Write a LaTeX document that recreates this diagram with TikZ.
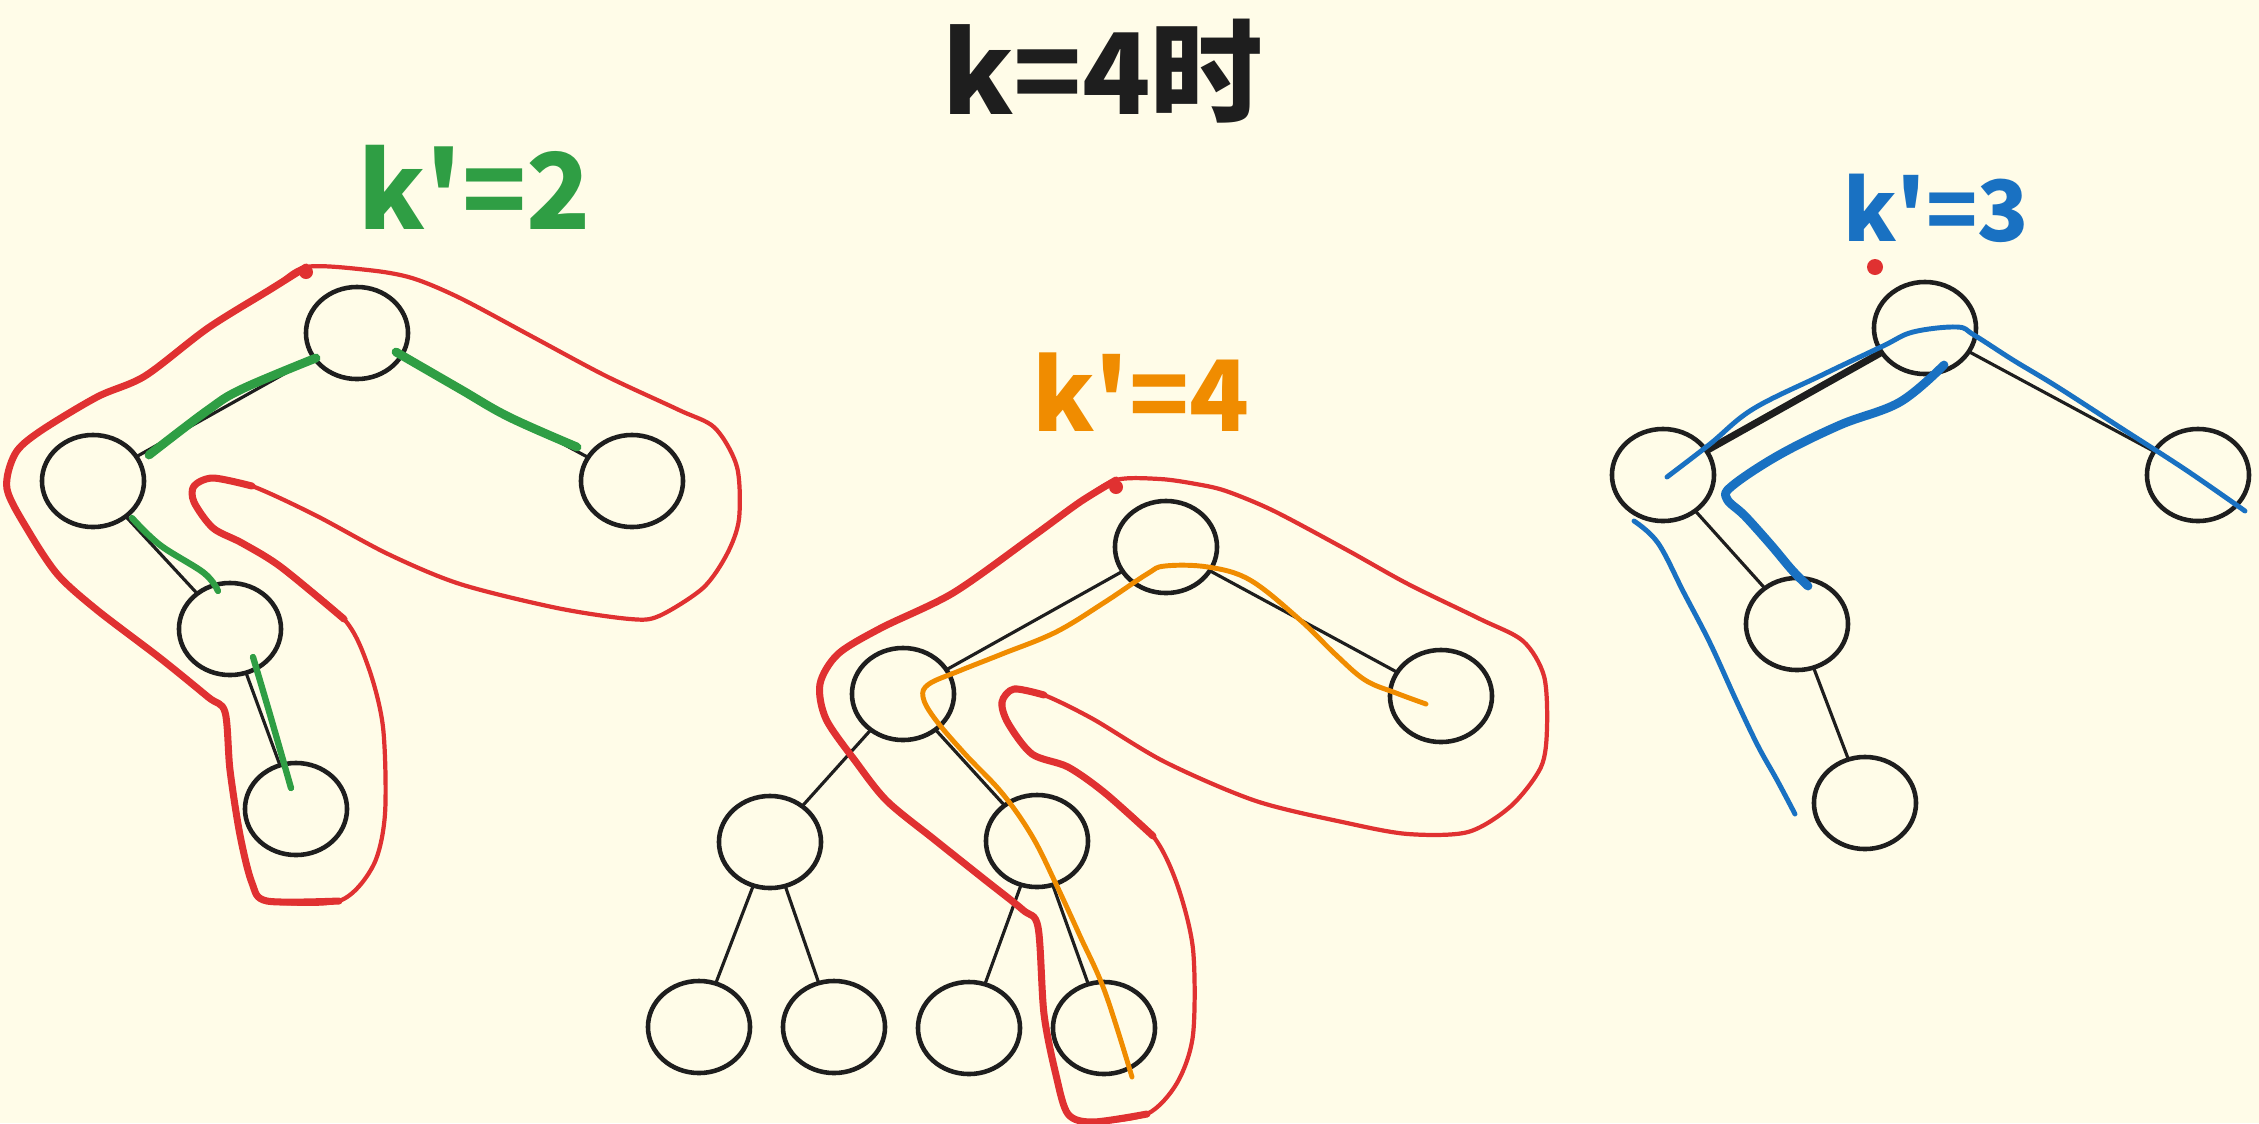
\documentclass[tikz,border=0pt]{standalone}
\usepackage{fontspec}
\usepackage{tkz-graph}
\usetikzlibrary{shapes.geometric}
\newfontfamily\hand{Noto Sans CJK SC}
\definecolor{paper}{HTML}{FFFCE8}
\definecolor{ink}{HTML}{1E1E1E}
\definecolor{redc}{HTML}{E03131}
\definecolor{greenc}{HTML}{2F9E44}
\definecolor{orangec}{HTML}{F08C00}
\definecolor{bluec}{HTML}{1971C2}

\begin{document}
\begin{tikzpicture}[x=0.01cm, y=-0.01cm,
    hull/.style={draw=redc, line width=1.2pt, line cap=round, line join=round},
    hullthick/.style={hull, line width=2pt},
    walk/.style={line width=1.4pt, line cap=round, line join=round},
    walkthick/.style={walk, line width=2.5pt},
    tag/.style={font=\hand\bfseries, inner sep=0pt}]
    \useasboundingbox[fill=paper] (0,0) rectangle (2259,1123);
    \GraphInit[vstyle=Normal]
    \tikzset{VertexStyle/.style={draw=ink, shape=ellipse, line width=1.3pt,
        minimum width=1.02cm, minimum height=0.92cm, inner sep=0pt}}
    \SetUpEdge[lw=0.9pt,color=ink]

    \node[tag, text=ink, font=\hand\bfseries\fontsize{32}{36}\selectfont] (title) at (1103,71) {k=4时};
    \node[tag, text=greenc, font=\hand\bfseries\fontsize{30}{34}\selectfont] (k2) at (475,187) {k'=2};
    \node[tag, text=orangec, font=\hand\bfseries\fontsize{28}{32}\selectfont] (k4) at (1141,392) {k'=4};
    \node[tag, text=bluec, font=\hand\bfseries\fontsize{24}{28}\selectfont] (k3) at (1936,208) {k'=3};

    \Vertex[x=357,y=333,NoLabel]{a}
    \Vertex[x=93,y=481,NoLabel]{b}
    \Vertex[x=632,y=481,NoLabel]{c}
    \Vertex[x=230,y=629,NoLabel]{d}
    \Vertex[x=296,y=809,NoLabel]{e}
    \Edge(a)(b)
    \Edge(a)(c)
    \Edge(b)(d)
    \Edge(d)(e)

    \Vertex[x=1166,y=547,NoLabel]{m1}
    \Vertex[x=903,y=694,NoLabel]{m2}
    \Vertex[x=1441,y=696,NoLabel]{m3}
    \Vertex[x=770,y=842,NoLabel]{m4}
    \Vertex[x=1037,y=841,NoLabel]{m5}
    \Vertex[x=699,y=1027,NoLabel]{m6}
    \Vertex[x=834,y=1027,NoLabel]{m7}
    \Vertex[x=969,y=1028,NoLabel]{m8}
    \Vertex[x=1104,y=1028,NoLabel]{m9}
    \Edge(m1)(m2)
    \Edge(m1)(m3)
    \Edge(m2)(m4)
    \Edge(m2)(m5)
    \Edge(m4)(m6)
    \Edge(m4)(m7)
    \Edge(m5)(m8)
    \Edge(m5)(m9)

    \Vertex[x=1925,y=328,NoLabel]{r1}
    \Vertex[x=1663,y=475,NoLabel]{r2}
    \Vertex[x=2198,y=475,NoLabel]{r3}
    \Vertex[x=1797,y=624,NoLabel]{r4}
    \Vertex[x=1865,y=803,NoLabel]{r5}
    \Edge[lw=2pt](r1)(r2)
    \Edge(r1)(r3)
    \Edge(r2)(r4)
    \Edge(r4)(r5)

    % red hulls
    \draw[hull] plot[smooth cycle, tension=0.5] coordinates {(306,267) (368,270) (412,278) (460,298) (533,337) (606,376) (679,410) (715,428) (737,467) (739,519) (727,554) (703,588) (659,616) (630,619) (557,608) (460,584) (388,554) (315,515) (252,486) (213,478) (194,486) (194,502) (213,528) (242,543) (281,567) (344,619) (368,666) (383,727) (385,814) (373,866) (339,901) (267,901) (252,883) (240,835) (230,770) (225,712) (208,697) (160,658) (97,610) (58,575) (29,532) (7,489) (15,454) (39,432) (97,397) (145,376) (208,328) (271,289)};
    \draw[hullthick] plot[smooth, tension=0.5] coordinates {(306,267) (271,289) (208,328) (145,376) (97,397) (39,432) (15,454) (7,489) (29,532) (58,575) (97,610) (160,658) (208,697) (225,712) (230,770) (240,835) (252,883) (267,901) (339,901)};
    \draw[hullthick] plot[smooth, tension=0.5] coordinates {(252,486) (213,478) (194,486) (194,502) (213,528) (242,543) (281,567) (344,619)};
    \fill[redc] (306,272) circle (7);

    \draw[hull] plot[smooth cycle, tension=0.5] coordinates {(1116,480) (1160,479) (1196,484) (1226,491) (1274,511) (1347,550) (1408,584) (1480,619) (1523,641) (1544,676) (1547,728) (1541,767) (1511,806) (1468,832) (1408,834) (1347,823) (1256,801) (1165,762) (1093,719) (1044,695) (1014,689) (1002,702) (1008,723) (1032,754) (1068,767) (1105,793) (1153,836) (1177,884) (1193,949) (1193,1035) (1177,1083) (1147,1114) (1093,1122) (1068,1114) (1056,1075) (1044,1014) (1038,927) (1023,910) (984,879) (935,840) (887,801) (856,762) (826,719) (820,684) (838,654) (881,628) (953,593) (1032,537) (1080,502)};
    \draw[hullthick] plot[smooth, tension=0.5] coordinates {(1116,480) (1080,502) (1032,537) (953,593) (881,628) (838,654) (820,684) (826,719) (856,762) (887,801) (935,840) (984,879) (1023,910) (1038,927) (1044,1014) (1056,1075) (1068,1114) (1093,1122) (1147,1114)};
    \draw[hullthick] plot[smooth, tension=0.5] coordinates {(1044,695) (1014,689) (1002,702) (1008,723) (1032,754) (1068,767) (1105,793) (1153,836)};
    \fill[redc] (1116,487) circle (7);

    \fill[redc] (1875,267) circle (8);

    % green walk
    \draw[walkthick, draw=greenc] plot[smooth, tension=0.6] coordinates {(316,358) (242,389) (208,410) (149,455)};
    \draw[walkthick, draw=greenc] plot[smooth, tension=0.6] coordinates {(396,352) (460,389) (509,417) (577,447)};
    \draw[walk, draw=greenc, line width=1.8pt] plot[smooth, tension=0.6] coordinates {(132,518) (160,545) (204,573) (218,591)};
    \draw[walk, draw=greenc, line width=1.8pt] plot[smooth, tension=0.6] coordinates {(253,657) (271,718) (291,788)};

    % orange walk
    \draw[walk, draw=orangec] plot[smooth, tension=0.6] coordinates {(1426,704) (1396,693) (1365,680) (1335,654) (1299,619) (1250,580) (1208,567) (1165,566) (1147,574) (1105,602) (1056,632) (1002,654) (959,671) (929,684) (923,697) (935,719) (965,754) (1002,793) (1032,836) (1056,884) (1080,936) (1105,992) (1132,1077)};

    % blue walks
    \draw[walk, draw=bluec] plot[smooth, tension=0.6] coordinates {(1667,477) (1710,444) (1753,409) (1822,375) (1883,346) (1913,332) (1957,327) (1974,335) (2013,360) (2056,386) (2121,428) (2186,470) (2245,511)};
    \draw[walkthick, draw=bluec] plot[smooth, tension=0.6] coordinates {(1944,365) (1900,402) (1840,425) (1779,455) (1732,486) (1727,499) (1745,516) (1771,545) (1792,570) (1808,586)};
    \draw[walk, draw=bluec] plot[smooth, tension=0.6] coordinates {(1634,521) (1658,543) (1684,593) (1710,643) (1736,700) (1758,746) (1777,780) (1795,814)};
\end{tikzpicture}
\end{document}
